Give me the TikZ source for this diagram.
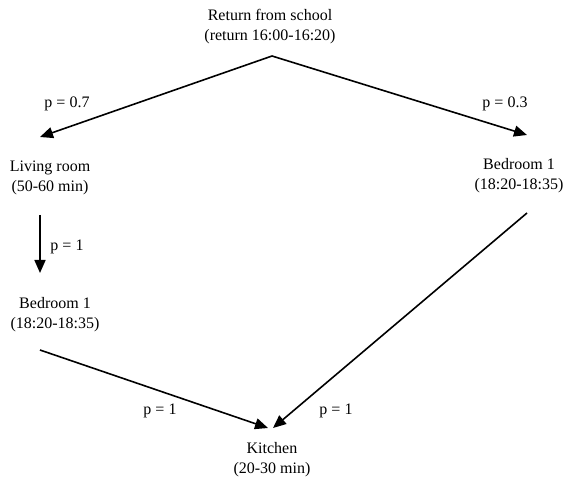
\documentclass[tikz,border=0pt]{standalone}
\usepackage{fontspec}
\setmainfont{Liberation Serif}
\usetikzlibrary{arrows.meta}
\begin{document}
\begin{tikzpicture}[x=1pt,y=-1pt,
  lbl/.style={font=\fontsize{16}{20}\selectfont, align=center, inner sep=0pt},
  plbl/.style={font=\fontsize{16}{20}\selectfont, inner sep=0pt},
  conn/.style={line width=1.6pt, -{Triangle[length=13pt,width=11pt]}},
  plain/.style={line width=1.6pt}]
\useasboundingbox (0,0) rectangle (563,481);
\node[lbl] (school) at (270,27) {Return from school\\(return 16:00-16:20)};
\node[lbl] (living) at (50,178) {Living room\\(50-60 min)};
\node[lbl] (bedR) at (519,176) {Bedroom 1\\(18:20-18:35)};
\node[lbl] (bedL) at (55,315) {Bedroom 1\\(18:20-18:35)};
\node[lbl] (kitchen) at (272,460) {Kitchen\\(20-30 min)};
\coordinate (apex) at (272,56);
\coordinate (livIn) at (40,137);
\coordinate (bedRIn) at (527,135);
\coordinate (livOut) at (40,215);
\coordinate (bedLIn) at (40,273);
\coordinate (bedLOut) at (40,350);
\coordinate (bedROut) at (527,213);
\coordinate (kitIn) at (268,428);
\coordinate (kitIn2) at (273,428);
\draw[conn] (apex) -- (livIn);
\draw[conn] (apex) -- (bedRIn);
\draw[conn] (livOut) -- (bedLIn);
\draw[conn] (bedLOut) -- (kitIn);
\draw[conn] (bedROut) -- (kitIn2);
\node[plbl] (p1) at (67,104) {p = 0.7};
\node[plbl] (p2) at (505,104) {p = 0.3};
\node[plbl] (p3) at (67,247) {p = 1};
\node[plbl] (p4) at (160,411) {p = 1};
\node[plbl] (p5) at (336,411) {p = 1};
\end{tikzpicture}
\end{document}
